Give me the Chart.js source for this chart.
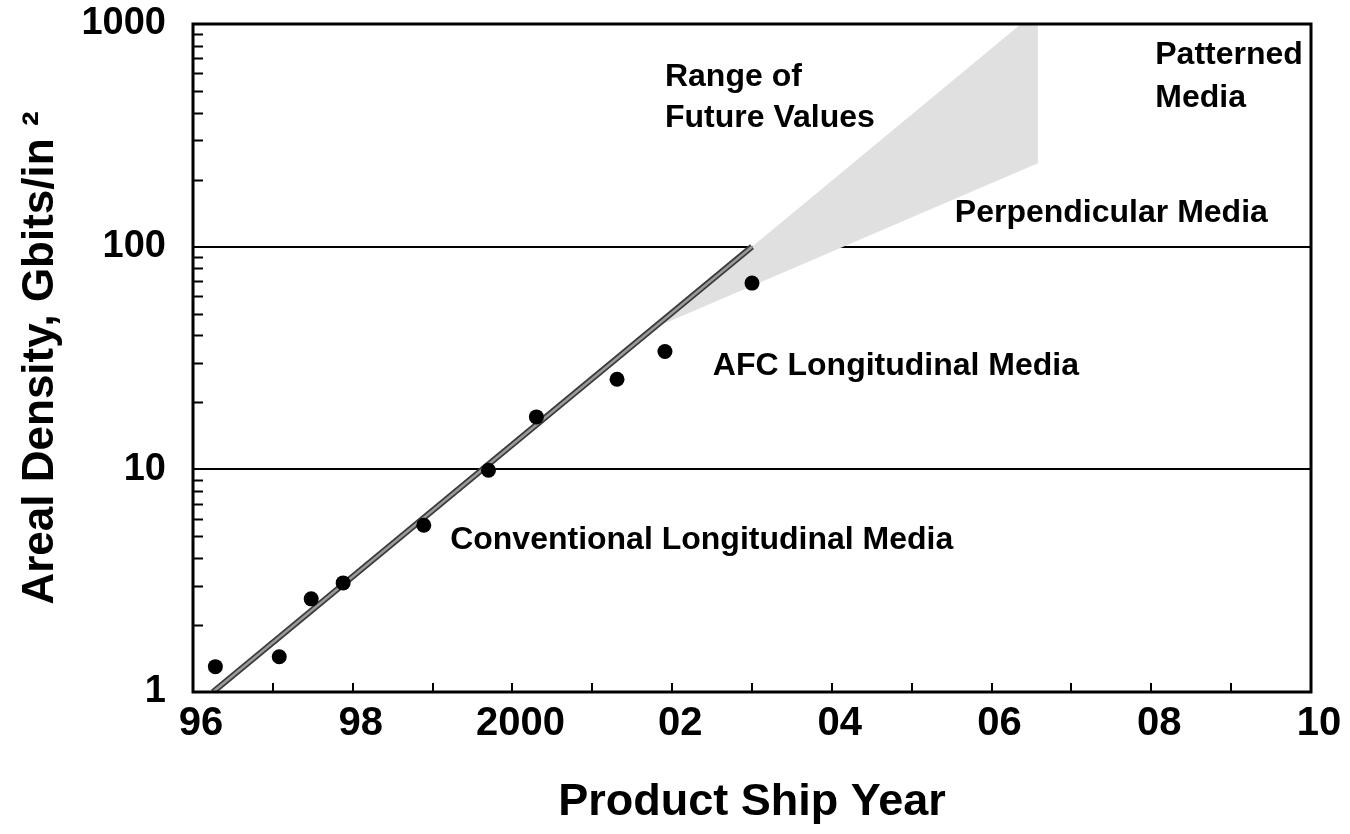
<!DOCTYPE html>
<html>
<head>
<meta charset="utf-8">
<script src="https://cdn.jsdelivr.net/npm/chart.js@4.4.1/dist/chart.umd.min.js"></script>
<style>
  html, body { margin: 0; padding: 0; background: #fff; }
  #wrap { width: 1350px; height: 834px; }
</style>
</head>
<body>
<div id="wrap"><canvas id="densityChart"></canvas></div>
<script>
// measured products (ship year, Gbit/in2)
const pointYears = [1996.28, 1997.08, 1997.48, 1997.88, 1998.89, 1999.70, 2000.30, 2001.31, 2001.91, 2003.00];
const pointDensity = [1.30, 1.44, 2.62, 3.09, 5.61, 9.9, 17.2, 25.4, 33.8, 68.6];

// trend line
const trendYears = [1996.25, 2003.0];
const trendDensity = [1, 100];

// range of future values (closed shape)
const rangeYears = [2001.8, 2003.0, 2006.58, 2006.58, 2001.8];
const rangeDensity = [43.6, 100, 1156, 237, 43.6];

// axis labels
const xLabelYears = [1996, 1998, 2000, 2002, 2004, 2006, 2008, 2010];
const xLabelText = ['96', '98', '2000', '02', '04', '06', '08', '10'];
const yMajorTicks = [1, 10, 100, 1000];

// text in the plot
const noteText = ['Range of', 'Future Values', 'Patterned', 'Media', 'Perpendicular Media', 'AFC Longitudinal Media', 'Conventional Longitudinal Media'];
const noteYear = [2001.91, 2001.91, 2008.05, 2008.05, 2005.54, 2002.51, 1999.22];
const noteDensity = [577, 377, 725, 464, 142, 29.1, 4.79];

const FONT = 'Liberation Sans, Arial, Helvetica, sans-serif';

function toXY(xs, ys) {
    return xs.map((x, i) => ({ x: x, y: ys[i] }));
}

// all log ticks 1..1000
const yAllTicks = [];
for (let d = 0; d < yMajorTicks.length - 1; d++) {
    for (let k = 1; k < 10; k++) yAllTicks.push(yMajorTicks[d] * k);
}
yAllTicks.push(yMajorTicks[yMajorTicks.length - 1]);

// frame, inner tick marks and labels
const framePlugin = {
    id: 'frame',
    afterDatasetsDraw(chart) {
        const ctx = chart.ctx;
        const area = chart.chartArea;
        const xs = chart.scales.x;
        const ys = chart.scales.y;
        ctx.save();
        ctx.strokeStyle = '#000';
        ctx.lineWidth = 2;
        ctx.beginPath();
        yAllTicks.forEach(v => {
            if (yMajorTicks.includes(v)) return;
            const py = Math.round(ys.getPixelForValue(v)) + 0.5;
            ctx.moveTo(area.left, py);
            ctx.lineTo(area.left + 10, py);
        });
        for (let yr = xs.min + 1; yr < xs.max; yr++) {
            const px = Math.round(xs.getPixelForValue(yr));
            ctx.moveTo(px, area.bottom);
            ctx.lineTo(px, area.bottom - 9);
        }
        ctx.stroke();

        ctx.lineWidth = 3;
        ctx.strokeRect(area.left, area.top, area.right - area.left, area.bottom - area.top);

        ctx.fillStyle = '#000';
        ctx.font = 'bold 32px ' + FONT;
        ctx.textAlign = 'left';
        ctx.textBaseline = 'middle';
        noteText.forEach((t, i) => {
            ctx.fillText(t, xs.getPixelForValue(noteYear[i]), ys.getPixelForValue(noteDensity[i]));
        });
        ctx.restore();
    }
};

const ctx = document.getElementById('densityChart').getContext('2d');

window.densityChart = new Chart(ctx, {
    type: 'line',
    data: {
        datasets: [
            {
                label: 'Products',
                data: toXY(pointYears, pointDensity),
                showLine: false,
                pointRadius: 7.5,
                pointBackgroundColor: '#000',
                pointBorderWidth: 0,
                order: 0
            },
            {
                label: 'Trend inner',
                data: toXY(trendYears, trendDensity),
                borderColor: '#9a9a9a',
                borderWidth: 2.5,
                pointRadius: 0,
                order: 1
            },
            {
                label: 'Trend',
                data: toXY(trendYears, trendDensity),
                borderColor: '#3a3a3a',
                borderWidth: 6,
                pointRadius: 0,
                order: 2
            },
            {
                label: 'Range of Future Values',
                data: toXY(rangeYears, rangeDensity),
                borderWidth: 0,
                borderColor: 'rgba(0,0,0,0)',
                backgroundColor: '#e0e0e0',
                fill: 'shape',
                pointRadius: 0,
                tension: 0,
                clip: false,
                order: 3
            }
        ]
    },
    options: {
        responsive: true,
        maintainAspectRatio: false,
        animation: false,
        layout: { padding: { top: 24, right: 39, left: 0, bottom: 0 } },
        plugins: {
            legend: { display: false },
            tooltip: { enabled: false }
        },
        scales: {
            x: {
                type: 'linear',
                min: 1996,
                max: 2010,
                afterFit(scale) { scale.height = 142; },
                grid: { display: false },
                border: { display: false },
                ticks: {
                    stepSize: 1,
                    autoSkip: false,
                    maxRotation: 0,
                    padding: 0,
                    labelOffset: 8,
                    color: '#000',
                    font: { family: FONT, size: 40, weight: 'bold' },
                    callback(value) {
                        const i = xLabelYears.indexOf(value);
                        return i >= 0 ? xLabelText[i] : '';
                    }
                },
                title: {
                    display: true,
                    text: 'Product Ship Year',
                    color: '#000',
                    font: { family: FONT, size: 45, weight: 'bold' },
                    padding: { top: 0, bottom: 4 }
                }
            },
            y: {
                type: 'logarithmic',
                min: 1,
                max: 1000,
                afterFit(scale) {
                    scale.width = 193;
                    scale.paddingTop = 0;
                    scale.paddingBottom = 0;
                },
                afterBuildTicks(scale) {
                    scale.ticks = yAllTicks.map(v => ({ value: v, major: yMajorTicks.includes(v) }));
                },
                grid: {
                    drawTicks: false,
                    color: c => (c.tick && (c.tick.value === 10 || c.tick.value === 100)) ? '#000' : 'rgba(0,0,0,0)',
                    lineWidth: 2
                },
                border: { display: false },
                ticks: {
                    autoSkip: false,
                    padding: 27,
                    color: '#000',
                    font: { family: FONT, size: 38, weight: 'bold' },
                    callback(value) {
                        return yMajorTicks.includes(value) ? String(value) : '';
                    }
                },
                title: {
                    display: true,
                    text: 'Areal Density, Gbits/in ²',
                    color: '#000',
                    font: { family: FONT, size: 44, weight: 'bold' },
                    padding: { top: 14, bottom: 0 }
                }
            }
        }
    },
    plugins: [framePlugin]
});
</script>
</body>
</html>
